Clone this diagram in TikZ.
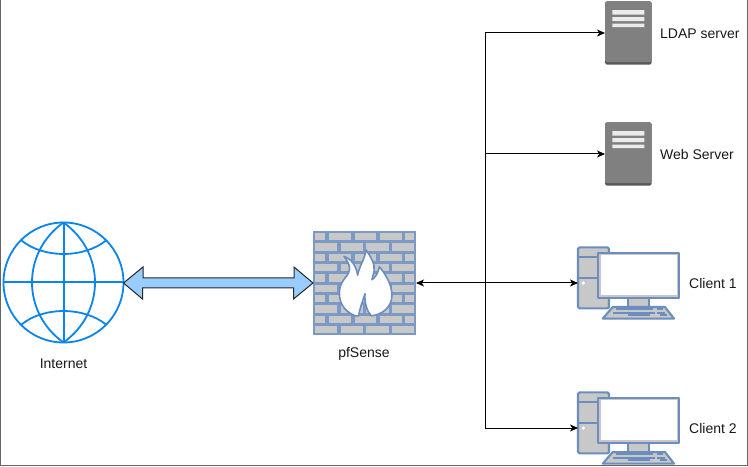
\documentclass[tikz,border=0pt]{standalone}
\usepackage{fontspec}
\setmainfont{Liberation Sans}
\usetikzlibrary{arrows.meta}
\definecolor{iconblue}{HTML}{6C8EBF}
\definecolor{icongrey}{HTML}{C8C8C8}
\definecolor{globeblue}{HTML}{0A84EE}
\definecolor{arrowblue}{HTML}{99CCFF}
\definecolor{framegrey}{HTML}{666666}
\tikzset{
  x=1bp,y=-1bp,
  lbl/.style={inner sep=0pt,font=\fontsize{14bp}{16bp}\selectfont,text=black!90},
  holder/.style={inner sep=0pt,outer sep=0pt,minimum width=#1},
  link/.style={draw=black,line width=1bp,-{Stealth[length=8bp,width=7bp,inset=2.2bp]}},
  bilink/.style={draw=black,line width=1bp,{Stealth[length=8bp,width=7bp,inset=2.2bp]}-{Stealth[length=8bp,width=7bp,inset=2.2bp]}},
  biglink/.style={draw=black!85,line width=1bp,fill=arrowblue,line join=miter},
  globeline/.style={draw=globeblue,line width=1.8bp},
  globestraight/.style={draw=globeblue,line width=2bp},
  brick/.style={draw=iconblue!90!white,fill=icongrey,line width=2bp},
  pcline/.style={draw=iconblue,fill=icongrey,line width=2.1bp,line join=round},
  kbline/.style={draw=iconblue,line width=2bp}
}
\newcommand{\pcicon}[2]{%
  \begin{scope}[shift={(#1,#2)}]
    \draw[pcline,rounded corners=1.5bp] (0,0) rectangle (31,61);
    \draw[pcline] (0,10) -- (31,10) (0,31) -- (31,31);
    \fill[white] (5.3,35.7) circle (1.8bp);
    \draw[pcline] (50,50.5) rectangle (71,59.5);
    \draw[pcline] (20.3,5.3) rectangle (101,50.7);
    \fill[white] (23,8) rectangle (98.5,48);
    \draw[pcline] (34.7,59.7) -- (87,59.7) -- (96,71.3) -- (24.7,71.3) -- cycle;
    \draw[kbline] (37.7,62) -- (75.3,62) (78.7,62) -- (85.3,62)
      (35.3,65.3) -- (77,65.3) (79.3,65.3) -- (87,65.3)
      (50.3,68) -- (72,68) (82,68) -- (88.7,68);
  \end{scope}}
\newcommand{\servericon}[2]{%
  \begin{scope}[shift={(#1,#2)}]
    \fill[black!65,rounded corners=2.5bp] (0,0) rectangle (46.7,63.5);
    \fill[black!50,rounded corners=2.5bp] (0,0) rectangle (46.7,61);
    \fill[white!92!black] (7.3,9) rectangle (39.3,13.3) (7.3,15.8) rectangle (39.3,19.8) (7.3,22.4) rectangle (39.3,26);
  \end{scope}}
\begin{document}
\begin{tikzpicture}
\useasboundingbox (0,0) rectangle (748,467);
\fill[white] (0,0) rectangle (748,467);
% frame
\draw[framegrey,line width=1.2bp] (.5,0) -- (.5,465.5) -- (747.2,465.5) -- (747.2,0);

% globe
\node[holder=120bp,minimum height=120bp] (net) at (63.5,283) {};
\begin{scope}[shift={(63.5,282.5)}]
  \draw[globeline] (0,0) circle (60bp);
  \draw[globestraight] (-60,0) -- (60,0) (0,-60) -- (0,60);
  \draw[globeline] (0,-60) .. controls (-42,-30) and (-42,30) .. (0,60);
  \draw[globeline] (0,-60) .. controls (42,-30) and (42,30) .. (0,60);
  \draw[globeline] (-42,-42) .. controls (-20,-24) and (20,-24) .. (42.5,-42);
  \draw[globeline] (-42,42) .. controls (-20,24) and (20,24) .. (42.5,42);
\end{scope}

% firewall
\node[holder=103bp,minimum height=103bp] (fw) at (364.5,283) {};
\foreach \r in {0,2,4,6,8}{
  \pgfmathsetmacro{\ya}{232+10.33*\r}
  \pgfmathsetmacro{\yb}{\ya+9.3}
  \foreach \xa/\xb in {314/326,327.5/352,353.5/377,378.5/402.5,404/415}
    \draw[brick] (\xa,\ya) rectangle (\xb,\yb);
  \pgfmathsetmacro{\yc}{\ya+10.33}
  \pgfmathsetmacro{\yd}{\yc+9.3}
  \foreach \xa/\xb in {314/338,339.5/363.5,365/389.5,391/415}
    \draw[brick] (\xa,\yc) rectangle (\xb,\yd);
}
\begin{scope}[shift={(333.5,243)},x=.35bp,y=-.35bp]
  \draw[draw=iconblue,fill=white,line width=1.6bp,line join=round]
    (62,208) .. controls (28,195) and (12,165) .. (18,130)
    .. controls (22,105) and (46,92) .. (46,75)
    .. controls (46,60) and (38,50) .. (30,38)
    .. controls (50,46) and (64,62) .. (69,92)
    .. controls (72,70) and (88,50) .. (93,20)
    .. controls (107,40) and (119,60) .. (116,80)
    .. controls (114,92) and (110,98) .. (110,105)
    .. controls (120,98) and (128,85) .. (131,68)
    .. controls (150,90) and (167,120) .. (167,150)
    .. controls (167,182) and (140,205) .. (108,208)
    .. controls (95,195) and (88,170) .. (90,145)
    .. controls (84,165) and (75,185) .. (72,208) -- cycle;
\end{scope}

% servers
\node[holder=46.7bp,minimum height=63.5bp] (ldap) at (628.35,33) {};
\servericon{605}{1.25}
\node[holder=46.7bp,minimum height=63.5bp] (web) at (628.35,154) {};
\servericon{605}{122.25}

% clients
\node[holder=101bp,minimum height=71.3bp] (cA) at (628.5,283) {};
\pcicon{578}{247.35}
\node[holder=101bp,minimum height=71.3bp] (cB) at (628.5,428) {};
\pcicon{578}{392.35}

% labels
\node[lbl,anchor=center] (tnet) at (63.5,364) {Internet};
\node[lbl,anchor=center] (tfw) at (364,353.5) {pfSense};
\node[lbl,anchor=west] (tldap) at (660,33.5) {LDAP server};
\node[lbl,anchor=west] (tweb) at (660,154.5) {Web Server};
\node[lbl,anchor=west] (tca) at (689,283.5) {Client 1};
\node[lbl,anchor=west] (tcb) at (689,428.5) {Client 2};

% connectors
\coordinate (trunk) at (485,283);
\draw[biglink] (net.east) -- ++(19.5,-16) -- ++(0,11) -- ++(151,0) -- ++(0,-11) -- (fw.west)
  -- ++(-19.5,16) -- ++(0,-11) -- ++(-151,0) -- ++(0,11) -- cycle;
\draw[bilink] (fw.east) -- (cA.west);
\draw[link] (trunk) |- (ldap.west);
\draw[link] (trunk) |- (web.west);
\draw[link] (trunk) |- (cB.west);
\end{tikzpicture}
\end{document}
